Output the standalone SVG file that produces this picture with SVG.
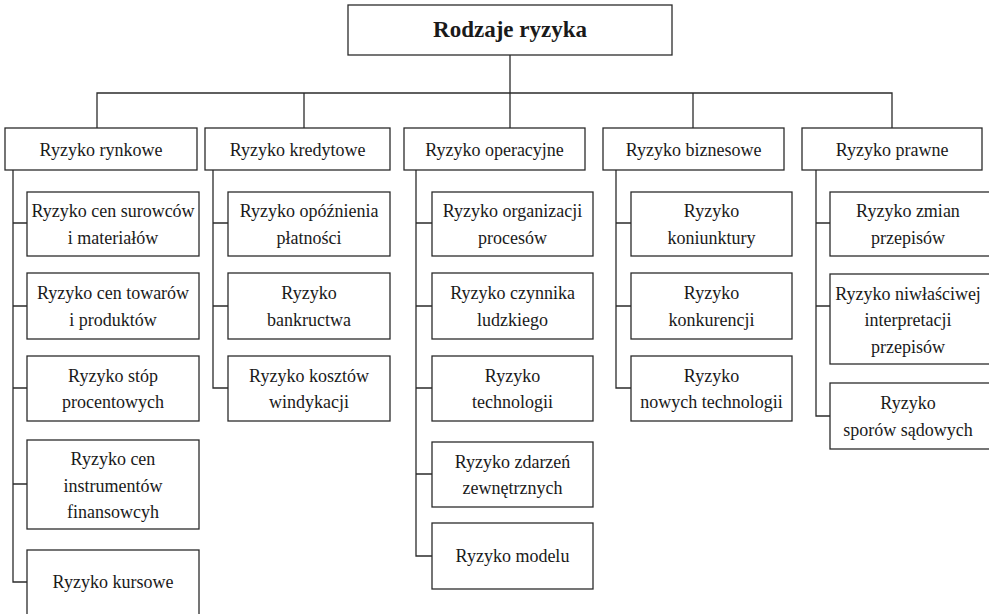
<svg xmlns="http://www.w3.org/2000/svg" width="989" height="614" viewBox="0 0 989 614">
  <style>
    .box { fill: #ffffff; stroke: #2b2b2b; stroke-width: 1.3; }
    .link { fill: none; stroke: #2b2b2b; stroke-width: 1.3; }
    text { font-family: "Liberation Serif", "Times New Roman", serif; font-size: 18px; fill: #1a1a1a; text-anchor: middle; }
    .title { font-size: 23px; font-weight: bold; }
  </style>
  <rect width="989" height="614" fill="#ffffff"/>

  <!-- connectors -->
  <g id="connectors" class="link">
    <path d="M510 55 V128"/>
    <path d="M97 128 V93 H892 V128"/>
    <path d="M304 93 V128"/>
    <path d="M693 93 V128"/>
    <!-- column 1 -->
    <path d="M13 170 V582 H27"/>
    <path d="M13 223 H27 M13 306 H27 M13 388 H27 M13 484 H27"/>
    <!-- column 2 -->
    <path d="M213 170 V388 H228"/>
    <path d="M213 223 H228 M213 306 H228"/>
    <!-- column 3 -->
    <path d="M416 170 V556 H432"/>
    <path d="M416 223 H432 M416 306 H432 M416 388 H432 M416 474 H432"/>
    <!-- column 4 -->
    <path d="M616 170 V388 H631"/>
    <path d="M616 223 H631 M616 306 H631"/>
    <!-- column 5 -->
    <path d="M816 170 V416 H830"/>
    <path d="M816 223 H830 M816 306 H830"/>
  </g>

  <!-- root -->
  <g id="root">
    <rect class="box" x="348" y="5" width="324" height="50"/>
    <text class="title" x="510" y="37">Rodzaje ryzyka</text>
  </g>

  <!-- level 1 -->
  <g id="rynkowe">
    <rect class="box" x="5" y="128" width="192" height="42"/>
    <text x="101" y="155.5">Ryzyko rynkowe</text>
  </g>
  <g id="kredytowe">
    <rect class="box" x="205" y="128" width="185" height="42"/>
    <text x="297.5" y="155.5">Ryzyko kredytowe</text>
  </g>
  <g id="operacyjne">
    <rect class="box" x="404" y="128" width="181" height="42"/>
    <text x="494.5" y="155.5">Ryzyko operacyjne</text>
  </g>
  <g id="biznesowe">
    <rect class="box" x="603" y="128" width="181" height="42"/>
    <text x="693.5" y="155.5">Ryzyko biznesowe</text>
  </g>
  <g id="prawne">
    <rect class="box" x="802" y="128" width="180" height="42"/>
    <text x="892" y="155.5">Ryzyko prawne</text>
  </g>

  <!-- column 1: rynkowe -->
  <g id="r1">
    <rect class="box" x="27" y="192" width="172" height="64"/>
    <text x="113" y="217">Ryzyko cen surowców</text>
    <text x="113" y="243.5">i materiałów</text>
  </g>
  <g id="r2">
    <rect class="box" x="27" y="273" width="172" height="66"/>
    <text x="113" y="299">Ryzyko cen towarów</text>
    <text x="113" y="325.5">i produktów</text>
  </g>
  <g id="r3">
    <rect class="box" x="27" y="356" width="172" height="65"/>
    <text x="113" y="381.5">Ryzyko stóp</text>
    <text x="113" y="408">procentowych</text>
  </g>
  <g id="r4">
    <rect class="box" x="27" y="440" width="172" height="89"/>
    <text x="113" y="465">Ryzyko cen</text>
    <text x="113" y="491.5">instrumentów</text>
    <text x="113" y="518">finansowcyh</text>
  </g>
  <g id="r5">
    <rect class="box" x="27" y="550" width="172" height="66"/>
    <text x="113" y="588">Ryzyko kursowe</text>
  </g>

  <!-- column 2: kredytowe -->
  <g id="k1">
    <rect class="box" x="228" y="192" width="162" height="64"/>
    <text x="309" y="217">Ryzyko opóźnienia</text>
    <text x="309" y="243.5">płatności</text>
  </g>
  <g id="k2">
    <rect class="box" x="228" y="273" width="162" height="66"/>
    <text x="309" y="299">Ryzyko</text>
    <text x="309" y="325.5">bankructwa</text>
  </g>
  <g id="k3">
    <rect class="box" x="228" y="356" width="162" height="65"/>
    <text x="309" y="381.5">Ryzyko kosztów</text>
    <text x="309" y="408">windykacji</text>
  </g>

  <!-- column 3: operacyjne -->
  <g id="o1">
    <rect class="box" x="432" y="192" width="161" height="64"/>
    <text x="512.5" y="217">Ryzyko organizacji</text>
    <text x="512.5" y="243.5">procesów</text>
  </g>
  <g id="o2">
    <rect class="box" x="432" y="273" width="161" height="66"/>
    <text x="512.5" y="299">Ryzyko czynnika</text>
    <text x="512.5" y="325.5">ludzkiego</text>
  </g>
  <g id="o3">
    <rect class="box" x="432" y="356" width="161" height="65"/>
    <text x="512.5" y="381.5">Ryzyko</text>
    <text x="512.5" y="408">technologii</text>
  </g>
  <g id="o4">
    <rect class="box" x="432" y="442" width="161" height="65"/>
    <text x="512.5" y="467.5">Ryzyko zdarzeń</text>
    <text x="512.5" y="494">zewnętrznych</text>
  </g>
  <g id="o5">
    <rect class="box" x="432" y="523" width="161" height="66"/>
    <text x="512.5" y="562">Ryzyko modelu</text>
  </g>

  <!-- column 4: biznesowe -->
  <g id="b1">
    <rect class="box" x="631" y="192" width="161" height="64"/>
    <text x="711.5" y="217">Ryzyko</text>
    <text x="711.5" y="243.5">koniunktury</text>
  </g>
  <g id="b2">
    <rect class="box" x="631" y="273" width="161" height="66"/>
    <text x="711.5" y="299">Ryzyko</text>
    <text x="711.5" y="325.5">konkurencji</text>
  </g>
  <g id="b3">
    <rect class="box" x="631" y="356" width="161" height="65"/>
    <text x="711.5" y="381.5">Ryzyko</text>
    <text x="711.5" y="408">nowych technologii</text>
  </g>

  <!-- column 5: prawne -->
  <g id="p1">
    <rect class="box" x="830" y="192" width="162" height="64"/>
    <text x="908" y="217">Ryzyko zmian</text>
    <text x="908" y="243.5">przepisów</text>
  </g>
  <g id="p2">
    <rect class="box" x="830" y="274" width="162" height="90"/>
    <text x="908" y="299.5">Ryzyko niwłaściwej</text>
    <text x="908" y="326">interpretacji</text>
    <text x="908" y="352.5">przepisów</text>
  </g>
  <g id="p3">
    <rect class="box" x="830" y="383" width="162" height="66"/>
    <text x="908" y="409">Ryzyko</text>
    <text x="908" y="435.5">sporów sądowych</text>
  </g>
</svg>
